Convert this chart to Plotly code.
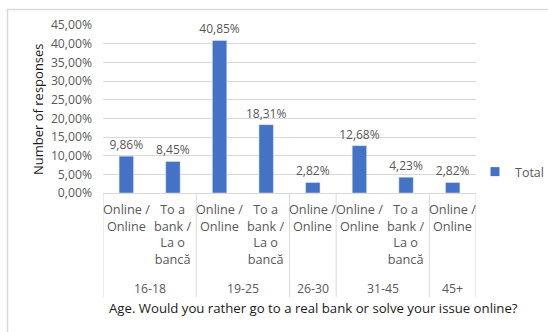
import plotly.graph_objects as go

groups = ["16-18", "16-18", "19-25", "19-25", "26-30", "31-45", "31-45", "45+"]
answers = ["Online /<br>Online", "To a<br>bank /<br>La o<br>bancă",
           "Online /<br>Online", "To a<br>bank /<br>La o<br>bancă",
           "Online /<br>Online",
           "Online /<br>Online", "To a<br>bank /<br>La o<br>bancă",
           "Online /<br>Online"]
values = [9.86, 8.45, 40.85, 18.31, 2.82, 12.68, 4.23, 2.82]
y_ticks = [0, 5, 10, 15, 20, 25, 30, 35, 40, 45]
y_tick_labels = [f"{v:.2f}%".replace(".", ",") for v in y_ticks]

FONT = "Open Sans"
GRAY = "#595959"
LINE = "#d9d9d9"
BLUE = "#4472C4"

xs = list(range(len(values)))

fig = go.Figure()
fig.add_trace(go.Bar(
    x=xs, y=values, name="Total", showlegend=False,
    marker_color=BLUE,
    width=0.31,
    text=values, texttemplate="%{y:.2f}%", textposition="outside",
    constraintext="none",
    textfont=dict(family=FONT, size=12, color=GRAY),
    cliponaxis=False,
))
# legend entry (square marker like Excel)
fig.add_trace(go.Scatter(
    x=[None], y=[None], mode="markers", name="Total",
    marker=dict(symbol="square", size=9, color=BLUE),
))

annotations = []
for i, a in enumerate(answers):
    annotations.append(dict(x=i, y=0, xref="x", yref="paper", yshift=-5,
                            text=a, showarrow=False, yanchor="top",
                            font=dict(family=FONT, size=12.7, color=GRAY),
                            align="center"))

# group spans
spans = []
start = 0
for i in range(1, len(groups) + 1):
    if i == len(groups) or groups[i] != groups[start]:
        spans.append((groups[start], start, i - 1))
        start = i

shapes = []
bounds = sorted(set([s[1] - 0.5 for s in spans] + [s[2] + 0.5 for s in spans]))
for b in bounds:
    shapes.append(dict(type="line", xref="x", yref="paper", ysizemode="pixel",
                       yanchor=0, x0=b, x1=b, y0=0, y1=-104,
                       line=dict(color=LINE, width=1)))
for g, s, e in spans:
    annotations.append(dict(x=(s + e) / 2, y=0, xref="x", yref="paper", yshift=-95,
                            text=g, showarrow=False, yanchor="middle",
                            font=dict(family=FONT, size=12.3, color=GRAY)))

annotations.append(dict(x=(313 - 103) / 373, y=0, xref="paper", yref="paper",
                        xanchor="center", yanchor="middle", yshift=-115,
                        text="Age. Would you rather go to a real bank or solve your issue online?",
                        showarrow=False, font=dict(family=FONT, size=13.2, color="#1a1a1a")))
annotations.append(dict(x=(38 - 103) / 373, y=0.5, xref="paper", yref="paper",
                        text="Number of responses", textangle=-90, showarrow=False,
                        xanchor="center", yanchor="middle",
                        font=dict(family=FONT, size=13, color="#1a1a1a")))

# outer chart border
shapes.append(dict(type="rect", xref="paper", yref="paper",
                   x0=(7.5 - 103) / 373, x1=(600 - 103) / 373,
                   y0=(193 - 400) / 168, y1=(193 - 9.5) / 168,
                   line=dict(color=LINE, width=1.5), layer="below"))

fig.update_layout(
    width=548, height=332,
    margin=dict(l=103, r=72, t=25, b=139, autoexpand=False),
    paper_bgcolor="white", plot_bgcolor="white",
    separators=",.",
    showlegend=True,
    legend=dict(x=(475 - 103) / 373, y=0.125, xanchor="left", yanchor="middle",
                font=dict(family=FONT, size=12.5, color=GRAY),
                bgcolor="rgba(0,0,0,0)"),
    xaxis=dict(range=[-0.5, len(values) - 0.5], showticklabels=False,
               showgrid=False, zeroline=False, showline=True,
               linecolor=LINE, linewidth=1, ticks=""),
    yaxis=dict(range=[0, 45], tickvals=y_ticks, ticktext=y_tick_labels,
               showgrid=True, gridcolor=LINE, gridwidth=1, zeroline=False,
               showline=False, ticks="", ticklabelstandoff=10,
               tickfont=dict(family=FONT, size=12.2, color=GRAY)),
    annotations=annotations,
    shapes=shapes,
)

fig.write_html("out.html", config={"displayModeBar": False},
               post_script="document.body.style.margin='0';")
